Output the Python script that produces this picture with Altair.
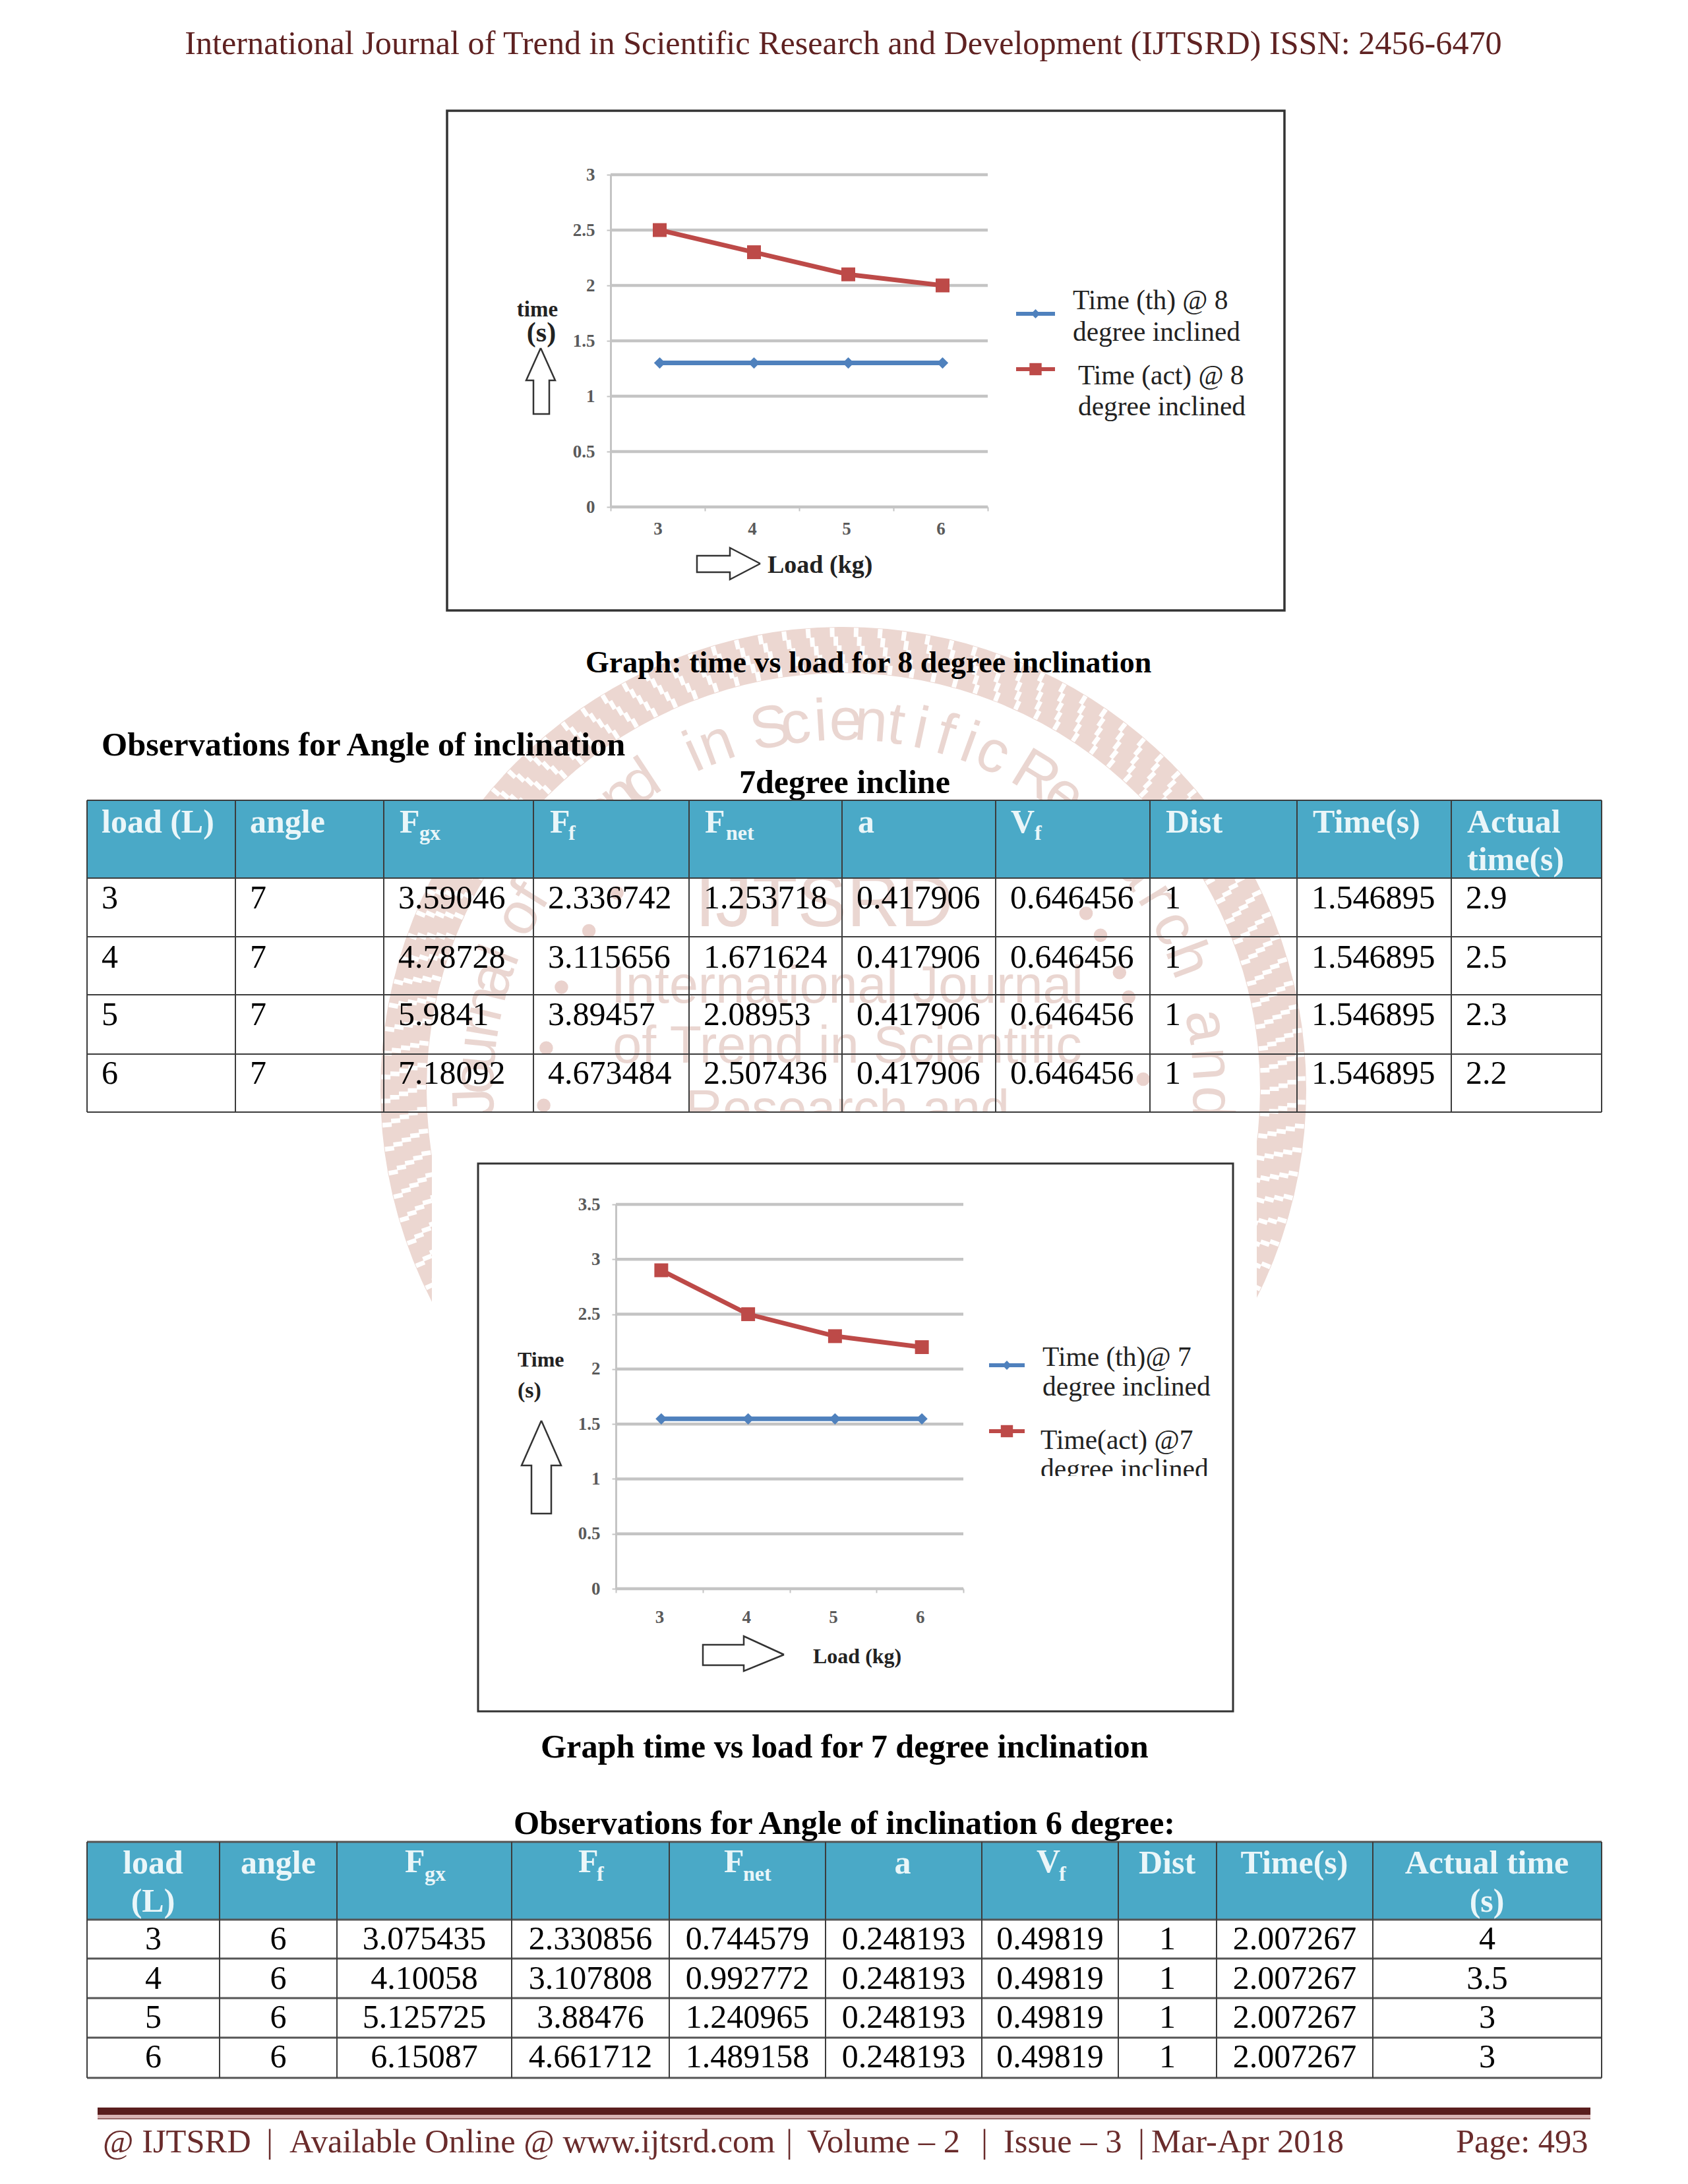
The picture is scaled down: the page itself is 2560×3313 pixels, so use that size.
import math
import altair as alt
import pandas as pd

# ---------------- values ----------------
LOADS = [3, 4, 5, 6]
T8_THEORY = [1.3, 1.3, 1.3, 1.3]
T8_ACTUAL = [2.5, 2.3, 2.1, 2.0]
T7_THEORY = [1.546895, 1.546895, 1.546895, 1.546895]
T7_ACTUAL = [2.9, 2.5, 2.3, 2.2]

TABLE7 = [
    ["3", "7", "3.59046", "2.336742", "1.253718", "0.417906", "0.646456", "1", "1.546895", "2.9"],
    ["4", "7", "4.78728", "3.115656", "1.671624", "0.417906", "0.646456", "1", "1.546895", "2.5"],
    ["5", "7", "5.9841", "3.89457", "2.08953", "0.417906", "0.646456", "1", "1.546895", "2.3"],
    ["6", "7", "7.18092", "4.673484", "2.507436", "0.417906", "0.646456", "1", "1.546895", "2.2"],
]
TABLE6 = [
    ["3", "6", "3.075435", "2.330856", "0.744579", "0.248193", "0.49819", "1", "2.007267", "4"],
    ["4", "6", "4.10058", "3.107808", "0.992772", "0.248193", "0.49819", "1", "2.007267", "3.5"],
    ["5", "6", "5.125725", "3.88476", "1.240965", "0.248193", "0.49819", "1", "2.007267", "3"],
    ["6", "6", "6.15087", "4.661712", "1.489158", "0.248193", "0.49819", "1", "2.007267", "3"],
]

# ---------------- page layout (reference pixels) ----------------
W, H = 2544, 3297
SERIF = "Liberation Serif"
SANS = "Liberation Sans"
MAROON = "#5f2222"
TEAL = "#4aa9c7"
PINK = "#ead6d1"
BLUE = "#4f81bd"
RED = "#bd4a48"
GRID = "#c4c4c4"

PX = alt.Scale(domain=[8, 8 + W], range=[0, W])
PY = alt.Scale(domain=[8, 8 + H], range=[0, H])

T7_X = [132, 357, 582, 809, 1045, 1277, 1510, 1744, 1967, 2201, 2429]
T7_Y = [1214, 1332, 1421, 1509, 1599, 1687]
T7_TEXT_Y = [1363, 1453, 1540, 1629]
T6_X = [132, 333, 511, 776, 1015, 1252, 1489, 1696, 1845, 2082, 2429]
T6_Y = [2794, 2912, 2971, 3031, 3091, 3152]
T6_TEXT_Y = [2942, 3002, 3061, 3121]

RING_CX, RING_CY, RING_R = 1279, 1653, 667
RING_STRANDS = 120
WM_R = 558
WM_WORDS = [("International", -146, 3.9), ("Journal", -92, 3.9), ("of", -62, 3.9), ("Trend", -49, 3.9),
            ("in", -24, 3.9), ("Scientific", -11.4, 3.93), ("Research", 31.5, 5.4), ("and", 80, 6)]
WM_DOTS = [-49, -58, -70, -82, -93, 54, 59, 67, 72, 88]
WM_LINES = [(1250, 1371, "IJTSRD", 112), (1285, 1497, "International Journal", 79),
            (1285, 1588, "of Trend in Scientific", 79), (1285, 1685, "Research and", 79)]


def df(rows, cols):
    return pd.DataFrame(rows, columns=cols)


def text(rows, size, color="black", bold=False, align="left", font=SERIF):
    return alt.Chart(df(rows, ["x", "y", "t"])).mark_text(
        font=font, fontSize=size, color=color, fontWeight="bold" if bold else "normal",
        align=align, baseline="middle").encode(
        x=alt.X("x:Q", scale=PX, axis=None), y=alt.Y("y:Q", scale=PY, axis=None), text="t:N")


def rect(rows, fill, stroke=None, sw=0):
    kw = {"stroke": stroke, "strokeWidth": sw} if stroke else {}
    return alt.Chart(df(rows, ["x", "x2", "y", "y2"])).mark_rect(fill=fill, **kw).encode(
        x=alt.X("x:Q", scale=PX, axis=None), x2="x2:Q",
        y=alt.Y("y:Q", scale=PY, axis=None), y2="y2:Q")


def hlines(x0, x1, ys, color="#3c3c3c", sw=2):
    return alt.Chart(df([(x0, x1, y) for y in ys], ["x", "x2", "y"])).mark_rule(color=color, strokeWidth=sw).encode(
        x=alt.X("x:Q", scale=PX, axis=None), x2="x2:Q", y=alt.Y("y:Q", scale=PY, axis=None))


def vlines(xs, y0, y1, color="#3c3c3c", sw=2):
    return alt.Chart(df([(x, y0, y1) for x in xs], ["x", "y", "y2"])).mark_rule(color=color, strokeWidth=sw).encode(
        x=alt.X("x:Q", scale=PX, axis=None), y=alt.Y("y:Q", scale=PY, axis=None), y2="y2:Q")


def poly(pts, color="#333333", sw=2.5):
    rows = [(x, y, i) for i, (x, y) in enumerate(pts)]
    return alt.Chart(df(rows, ["x", "y", "i"])).mark_line(color=color, strokeWidth=sw).encode(
        x=alt.X("x:Q", scale=PX, axis=None), y=alt.Y("y:Q", scale=PY, axis=None), order="i:Q")


def ring(r, width, color, dash=None, dash_offset=0):
    kw = {"strokeDash": dash, "strokeDashOffset": dash_offset} if dash else {}
    # a Vega circle symbol has radius sqrt(size) / 2
    return alt.Chart(df([(RING_CX, RING_CY)], ["x", "y"])).mark_point(
        shape="circle", filled=False, opacity=1, stroke=color, strokeWidth=width,
        size=(2 * r) ** 2, **kw).encode(
        x=alt.X("x:Q", scale=PX, axis=None), y=alt.Y("y:Q", scale=PY, axis=None))


def legend_key(x0, x1, y, color, shape, size):
    line = hlines(x0, x1, [y], color=color, sw=6)
    pt = alt.Chart(df([((x0 + x1) / 2, y)], ["x", "y"])).mark_point(
        shape=shape, filled=True, opacity=1, color=color, size=size).encode(
        x=alt.X("x:Q", scale=PX, axis=None), y=alt.Y("y:Q", scale=PY, axis=None))
    return [line, pt]


def plot(theory, actual, ymax, x0, x1, y0, y1, xpad, label_color="#5a5a5a"):
    xs_axis = alt.Scale(type="band", domain=LOADS, range=[x0 - 8, x1 - 8], paddingInner=0, paddingOuter=0)
    # the markers sit about 3 px to the right of the tick labels in the reference
    xs = alt.Scale(type="band", domain=LOADS, range=[x0 - 5, x1 - 5], paddingInner=0, paddingOuter=0)
    ys = alt.Scale(domain=[0, ymax], range=[y0 - 8, y1 - 8])
    ticks = [i * 0.5 for i in range(int(ymax * 2) + 1)]
    xaxis = alt.Axis(orient="bottom", offset=-(H - (y0 - 8)), title=None, labelAngle=0, tickBand="extent",
                     domainColor=GRID, domainWidth=3, tickColor=GRID, tickWidth=2, tickSize=6,
                     labelFont=SERIF, labelFontSize=27, labelFontWeight="bold", labelColor=label_color,
                     labelPadding=xpad, zindex=1)
    yaxis = alt.Axis(orient="left", offset=-(x0 - 8), title=None, values=ticks, format="~g",
                     domainColor=GRID, domainWidth=3, tickColor=GRID, tickWidth=2, tickSize=6,
                     labelFont=SERIF, labelFontSize=27, labelFontWeight="bold", labelColor=label_color,
                     labelPadding=18, zindex=1)
    grid = alt.Chart(pd.DataFrame({"v": ticks})).mark_rule(color=GRID, strokeWidth=4.5).encode(
        x=alt.value(x0 - 8), x2=alt.value(x1 - 8), y=alt.Y("v:Q", scale=ys, axis=None))
    data = pd.DataFrame({"load": LOADS, "th": theory, "act": actual})
    X = alt.X("load:O", scale=xs, axis=None)
    out = [grid]
    out.append(alt.Chart(data).mark_point(opacity=0, size=1).encode(
        x=alt.X("load:O", scale=xs_axis, axis=xaxis), y=alt.Y("th:Q", scale=ys, axis=yaxis)))
    out.append(alt.Chart(data).mark_line(color=BLUE, strokeWidth=7).encode(
        x=X, y=alt.Y("th:Q", scale=ys, axis=None)))
    out.append(alt.Chart(data).mark_point(shape="diamond", filled=True, opacity=1, color=BLUE, size=300).encode(
        x=X, y=alt.Y("th:Q", scale=ys, axis=None)))
    out.append(alt.Chart(data).mark_line(color=RED, strokeWidth=7).encode(
        x=X, y=alt.Y("act:Q", scale=ys, axis=None)))
    out.append(alt.Chart(data).mark_point(shape="square", filled=True, opacity=1, color=RED, size=440).encode(
        x=X, y=alt.Y("act:Q", scale=ys, axis=None)))
    return out


layers = []

# ---- watermark ----
layers.append(ring(RING_R, 70, "#ecd7d1"))
for k, dr in enumerate([-27, -13.5, 0, 13.5, 27]):
    r = RING_R + dr
    period = 2 * math.pi * r / RING_STRANDS
    layers.append(ring(r, 14, "#ffffff", dash=[7, period - 7], dash_offset=k * 5 * r / RING_R))
letters = []
for word, start, step in WM_WORDS:
    for i, ch in enumerate(word):
        t = start + i * step
        a = math.radians(t)
        letters.append((RING_CX + WM_R * math.sin(a), RING_CY - WM_R * math.cos(a), ch, t % 360))
layers.append(alt.Chart(df(letters, ["x", "y", "t", "a"])).mark_text(
    font=SANS, fontSize=90, color=PINK, baseline="middle", align="center").encode(
    x=alt.X("x:Q", scale=PX, axis=None), y=alt.Y("y:Q", scale=PY, axis=None), text="t:N",
    angle=alt.Angle("a:Q", scale=None)))
dots = [(RING_CX + 455 * math.sin(math.radians(t)), RING_CY - 455 * math.cos(math.radians(t))) for t in WM_DOTS]
layers.append(alt.Chart(df(dots, ["x", "y"])).mark_point(
    shape="circle", filled=True, opacity=1, color="#ead2cd", size=420).encode(
    x=alt.X("x:Q", scale=PX, axis=None), y=alt.Y("y:Q", scale=PY, axis=None)))
for x, y, t, s in WM_LINES:
    layers.append(text([(x, y, t)], s, color=PINK, align="center", font=SANS))
layers.append(rect([(655, 1906, 1688, 1975), (0, 2552, 1975, 2420)], "#ffffff"))

# ---- header ----
layers.append(text([(1279, 67, "International Journal of Trend in Scientific Research and Development (IJTSRD) ISSN: 2456-6470")],
                   50.2, color=MAROON, align="center"))

# ---- chart 1 ----
layers.append(rect([(678, 1948, 168, 926)], "#ffffff", stroke="#333333", sw=3.5))
layers += plot(T8_THEORY, T8_ACTUAL, 3, 926, 1498, 769, 265, 14)
layers.append(text([(815, 470, "time")], 33, bold=True, align="center", color="#222222"))
layers.append(text([(821, 505, "(s)")], 42, bold=True, align="center", color="#222222"))
layers.append(text([(1164, 858, "Load (kg)")], 38, bold=True, color="#222222"))
layers.append(poly([(820, 528), (842, 577), (833, 577), (833, 628), (809, 628), (809, 577), (798, 577), (820, 528)]))
layers.append(poly([(1153, 855), (1107, 831), (1107, 843), (1057, 843), (1057, 868), (1107, 868), (1107, 879), (1153, 855)]))
layers += legend_key(1541, 1600, 476, BLUE, "diamond", 190)
layers += legend_key(1541, 1600, 560, RED, "square", 340)
layers.append(text([(1627, 457, "Time (th) @ 8"), (1627, 505, "degree inclined"),
                    (1635, 571, "Time (act) @ 8"), (1635, 618, "degree inclined")], 41.4, color="#222222"))
layers.append(text([(888, 1006, "Graph: time vs load for 8 degree inclination")], 46, bold=True))

# ---- table 7 degree ----
layers.append(text([(154, 1131, "Observations for Angle of inclination")], 50.4, bold=True))
layers.append(text([(1121, 1188, "7degree incline")], 50, bold=True))
layers.append(rect([(T7_X[0], T7_X[-1], T7_Y[0], T7_Y[1])], TEAL))
layers.append(hlines(T7_X[0], T7_X[-1], T7_Y))
layers.append(vlines(T7_X, T7_Y[0], T7_Y[-1]))
HEAD = "#eaf6f9"
layers.append(text([(154, 1248, "load (L)"), (379, 1248, "angle"), (606, 1248, "F"), (834, 1248, "F"),
                    (1069, 1248, "F"), (1301, 1248, "a"), (1533, 1248, "V"), (1768, 1248, "Dist"),
                    (1991, 1248, "Time(s)"), (2225, 1248, "Actual"), (2225, 1305, "time(s)")],
                   50, color=HEAD, bold=True))
layers.append(text([(636, 1264, "gx"), (862, 1264, "f"), (1101, 1264, "net"), (1569, 1264, "f")],
                   32, color=HEAD, bold=True))
rows7 = []
for r, y in zip(TABLE7, T7_TEXT_Y):
    for j, v in enumerate(r):
        rows7.append((T7_X[j] + 22, y, v))
layers.append(text(rows7, 50))

# ---- chart 2 ----
layers.append(rect([(725, 1870, 1765, 2596)], "#ffffff", stroke="#333333", sw=3))
layers += plot(T7_THEORY, T7_ACTUAL, 3.5, 934, 1461, 2410, 1827, 24)
layers.append(text([(785, 2063, "Time")], 32, bold=True, color="#222222"))
layers.append(text([(785, 2110, "(s)")], 34, bold=True, color="#222222"))
layers.append(text([(1233, 2513, "Load (kg)")], 32, bold=True, color="#222222"))
layers.append(poly([(821, 2155), (851, 2223), (836, 2223), (836, 2296), (806, 2296), (806, 2223), (791, 2223), (821, 2155)]))
layers.append(poly([(1189, 2510), (1128, 2482), (1128, 2495), (1066, 2495), (1066, 2526), (1128, 2526), (1128, 2535), (1189, 2510)]))
layers += legend_key(1500, 1554, 2071, BLUE, "diamond", 190)
layers += legend_key(1500, 1554, 2171, RED, "square", 340)
layers.append(text([(1581, 2060, "Time (th)@ 7"), (1581, 2105, "degree inclined"),
                    (1578, 2186, "Time(act) @7"), (1578, 2230, "degree inclined")], 41.5, color="#222222"))
layers.append(rect([(1570, 1860, 2239, 2262)], "#ffffff"))
layers.append(text([(820, 2651, "Graph time vs load for 7 degree inclination")], 50.3, bold=True))

# ---- table 6 degree ----
layers.append(text([(779, 2767, "Observations for Angle of inclination 6 degree:")], 50.4, bold=True))
layers.append(rect([(T6_X[0], T6_X[-1], T6_Y[0], T6_Y[1])], TEAL))
layers.append(hlines(T6_X[0], T6_X[-1], T6_Y, color="#555555", sw=3))
layers.append(vlines(T6_X, T6_Y[0], T6_Y[-1]))
layers.append(text([(232, 2827, "load"), (232, 2885, "(L)"), (422, 2827, "angle"),
                    (1369, 2827, "a"), (1770, 2827, "Dist"), (1963, 2827, "Time(s)"),
                    (2255, 2827, "Actual time"), (2255, 2885, "(s)")],
                   50, color=HEAD, bold=True, align="center"))
layers.append(text([(614, 2825, "F"), (877, 2825, "F"), (1098, 2825, "F"), (1572, 2825, "V")], 50, color=HEAD, bold=True))
layers.append(text([(644, 2843, "gx"), (905, 2843, "f"), (1127, 2843, "net"), (1606, 2843, "f")], 32, color=HEAD, bold=True))
rows6 = []
for r, y in zip(TABLE6, T6_TEXT_Y):
    for j, v in enumerate(r):
        rows6.append(((T6_X[j] + T6_X[j + 1]) / 2, y, v))
layers.append(text(rows6, 50, align="center"))

# ---- footer ----
layers.append(rect([(148, 2412, 3197, 3208)], "#5a1e1e"))
layers.append(rect([(148, 2412, 3208, 3213)], "#d9b4b4"))
layers.append(rect([(148, 2412, 3213, 3215)], "#9a6a6a"))
layers.append(text([(156, 3250, "@ IJTSRD"), (404, 3250, "|"), (439, 3250, "Available Online @ www.ijtsrd.com"),
                    (1192, 3250, "|"), (1224, 3250, "Volume – 2"), (1488, 3250, "|"), (1522, 3250, "Issue – 3"),
                    (1726, 3250, "|"), (1746, 3250, "Mar-Apr 2018"), (2208, 3250, "Page: 493")],
                   50.5, color="#6a2c2c"))

chart = alt.layer(*layers).resolve_scale(x="independent", y="independent").properties(
    width=W, height=H, padding=0, background="#ffffff",
    autosize=alt.AutoSizeParams(type="none"),
).configure_view(stroke=None)

chart.save("out.html", embed_options={"renderer": "svg", "actions": False})
